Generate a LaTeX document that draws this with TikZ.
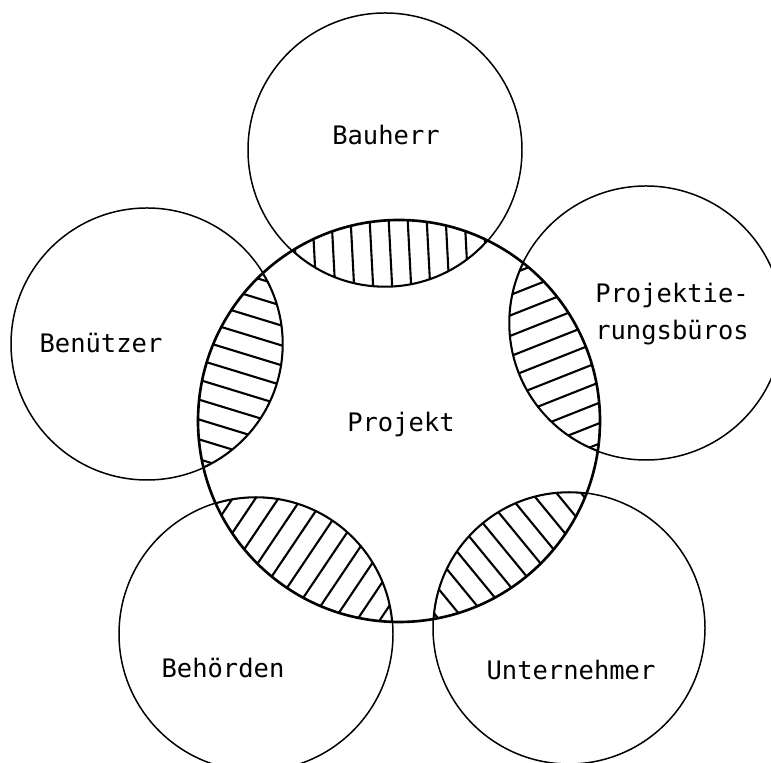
\documentclass[tikz,border=0pt]{standalone}
\usepackage{fontspec}
\setmonofont{DejaVu Sans Mono}
\usetikzlibrary{positioning}

\begin{document}
\begin{tikzpicture}[
  x=0.02cm, y=0.02cm,
  ring/.style  = {line width=0.85pt},
  core/.style  = {line width=1.5pt},
  hatch/.style = {line width=1.2pt},
  lbl/.style   = {font=\ttfamily\fontsize{14.5}{21}\selectfont, align=center},
  ]
  \useasboundingbox (0,0) rectangle (771,763);

  % Centres of the circles
  \coordinate (pc) at (399,342);
  \coordinate (bh) at (385,613);
  \coordinate (pb) at (646,440);
  \coordinate (un) at (569,135);
  \coordinate (be) at (256,129);
  \coordinate (bn) at (147,419);

  % Hatching of the overlaps
  \foreach \c/\r/\a in {bh/137/93, pb/137/21.6, un/136/-50.6, be/137/-123.9, bn/136/163} {
    \begin{scope}
      \clip (pc) circle (201);
      \clip (\c) circle (\r);
      \foreach \o in {-152,-133,...,152}
        \draw[hatch] (\c) ++(\a+90:\o) ++(\a:-220) -- ++(\a:440);
      \draw[core] (\c) circle (\r);
    \end{scope}
  }

  % Circles
  \draw[core] (pc) circle (201);
  \foreach \c/\r in {bh/137, pb/137, un/136, be/137, bn/136}
    \draw[ring] (\c) circle (\r);

  % Labels
  \node (projekt)     at (401,339) [lbl] {Projekt};
  \node (bauherr)     at (386,628) [lbl] {Bauherr};
  \node (buero)       at (672,449) [lbl] {Projektie-\\rungsbüros};
  \node (unternehmer) at (571,93)  [lbl] {Unternehmer};
  \node (behoerden)   at (223,95)  [lbl] {Behörden};
  \node (benuetzer)   at (101,420) [lbl] {Benützer};
\end{tikzpicture}
\end{document}
